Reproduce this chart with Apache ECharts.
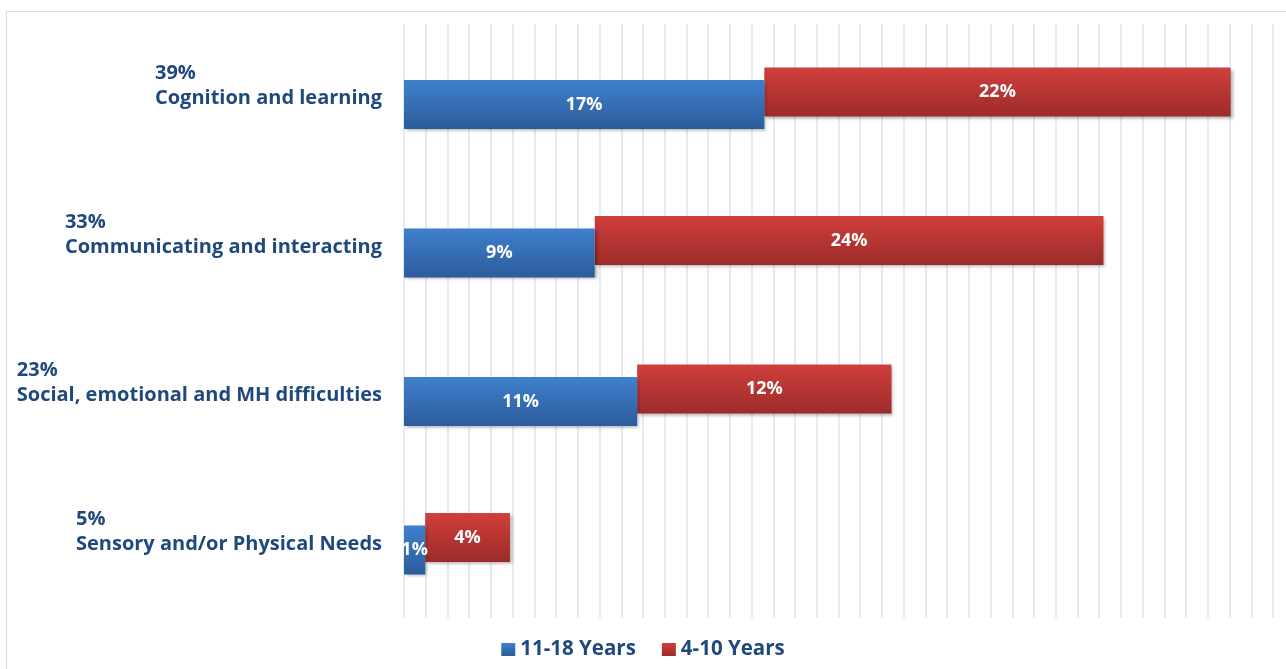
<!DOCTYPE html>
<html>
<head>
<meta charset="utf-8">
<script src="https://cdn.jsdelivr.net/npm/echarts@6/dist/echarts.min.js"></script>
<style>
  html, body { margin: 0; padding: 0; background: #ffffff; }
  #chart { width: 1286px; height: 669px; }
</style>
</head>
<body>
<div id="chart"></div>
<script>
// Need areas, listed top to bottom
const categories = [
  'Cognition and learning',
  'Communicating and interacting',
  'Social, emotional and MH difficulties',
  'Sensory and/or Physical Needs'
];
const categoryTotals = ['39%', '33%', '23%', '5%'];
const olderValues = [17, 9, 11, 1];     // 11-18 Years
const youngerValues = [22, 24, 12, 4];  // 4-10 Years
const seriesNames = ['11-18 Years', '4-10 Years'];

const textColor = '#1f497d';
const fontFamily = '"Open Sans", Lato, sans-serif';

const blueFill = new echarts.graphic.LinearGradient(0, 0, 0, 1, [
  { offset: 0, color: '#3f80cd' },
  { offset: 1, color: '#2c5c9b' }
]);
const redFill = new echarts.graphic.LinearGradient(0, 0, 0, 1, [
  { offset: 0, color: '#d03f3c' },
  { offset: 1, color: '#9d2b2a' }
]);
const barShadow = {
  shadowBlur: 3,
  shadowOffsetX: 2,
  shadowOffsetY: 2,
  shadowColor: 'rgba(0,0,0,0.3)'
};
const valueLabel = {
  show: true,
  position: 'inside',
  color: '#ffffff',
  fontFamily: fontFamily,
  fontWeight: 'bold',
  fontSize: 18,
  formatter: p => p.value + '%'
};
const axisText = { align: 'left', color: textColor, fontFamily: fontFamily, fontWeight: 'bold', fontSize: 20, lineHeight: 25 };

const chart = echarts.init(document.getElementById('chart'), null, { renderer: 'canvas' });

chart.setOption({
  animation: false,
  backgroundColor: '#ffffff',
  graphic: [{
    type: 'rect',
    shape: { x: 6.5, y: 11.5, width: 1300, height: 700 },
    style: { fill: 'none', stroke: '#d6dfed', lineWidth: 1.2 },
    silent: true,
    z: -10
  }],
  grid: { left: 404, right: 13, top: 24, bottom: 51, containLabel: false },
  legend: {
    data: seriesNames,
    bottom: 4,
    left: 'center',
    icon: 'rect',
    itemWidth: 14,
    itemHeight: 13,
    itemGap: 26,
    textStyle: { color: textColor, fontFamily: fontFamily, fontWeight: 'bold', fontSize: 20.5 }
  },
  xAxis: {
    type: 'value',
    min: 0,
    max: 41,
    interval: 1.025,
    axisLabel: { show: false },
    axisLine: { show: false },
    axisTick: { show: false },
    splitLine: { show: true, lineStyle: { color: '#dbe4f2', width: 1.5 } }
  },
  yAxis: {
    type: 'category',
    inverse: true,
    data: categories,
    axisLine: { show: false },
    axisTick: { show: false },
    splitLine: { show: false },
    axisLabel: {
      margin: 22,
      align: 'right',
      padding: [0, 0, 24, 0],
      formatter: (value, idx) => '{p|' + categoryTotals[idx] + '}\n{n|' + value + '}',
      rich: { p: axisText, n: axisText }
    }
  },
  series: [
    {
      // invisible spacer so the 4-10 bar starts where the 11-18 bar ends
      name: 'offset',
      type: 'bar',
      stack: 'younger',
      data: olderValues,
      barWidth: 49,
      barGap: '-74.5%',
      silent: true,
      itemStyle: { color: 'rgba(0,0,0,0)' },
      label: { show: false },
      emphasis: { disabled: true }
    },
    {
      name: seriesNames[1],
      type: 'bar',
      stack: 'younger',
      data: youngerValues,
      barWidth: 49,
      barGap: '-74.5%',
      itemStyle: Object.assign({ color: redFill }, barShadow),
      label: valueLabel
    },
    {
      name: seriesNames[0],
      type: 'bar',
      stack: 'older',
      data: olderValues,
      barWidth: 49,
      barGap: '-74.5%',
      itemStyle: Object.assign({ color: blueFill }, barShadow),
      label: valueLabel
    }
  ]
});
</script>
</body>
</html>
